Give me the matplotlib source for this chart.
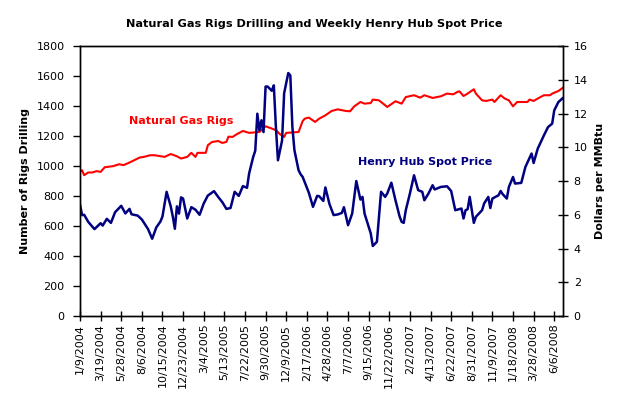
import matplotlib
matplotlib.use("Agg")
import matplotlib.pyplot as plt

# category labels on the x axis (every 10th week)
date_labels = ["1/9/2004", "3/19/2004", "5/28/2004", "8/6/2004", "10/15/2004",
               "12/23/2004", "3/4/2005", "5/13/2005", "7/22/2005", "9/30/2005",
               "12/9/2005", "2/17/2006", "4/28/2006", "7/7/2006", "9/15/2006",
               "11/22/2006", "2/2/2007", "4/13/2007", "6/22/2007", "8/31/2007",
               "11/9/2007", "1/18/2008", "3/28/2008", "6/6/2008"]

# natural gas rigs (week number from 1/9/2004, rig count)
rig_week = [0, 1, 2, 4, 6, 8, 10, 12, 16, 19, 21, 23, 25, 29, 31, 34, 36, 38, 41,
            44, 47, 49, 52, 54, 56, 57, 61, 62, 64, 67, 69, 71, 72, 74, 76, 79,
            82, 87, 90, 93, 95, 97, 99, 100, 106, 108, 109, 111, 114, 116, 119,
            122, 125, 129, 131, 133, 136, 138, 141, 142, 145, 149, 153, 156, 158,
            162, 165, 167, 171, 175, 178, 181, 183, 184, 186, 188, 191, 192, 195,
            197, 200, 201, 204, 206, 208, 210, 212, 217, 218, 220, 222, 225, 228,
            229, 232, 234]
rigs = [961, 972, 939, 957, 957, 966, 961, 992, 999, 1012, 1006, 1017, 1030, 1057,
        1061, 1072, 1072, 1068, 1061, 1080, 1065, 1050, 1061, 1088, 1061, 1088,
        1088, 1139, 1160, 1167, 1154, 1161, 1196, 1194, 1212, 1234, 1221, 1227,
        1265, 1250, 1239, 1212, 1194, 1221, 1227, 1300, 1316, 1323, 1294, 1316,
        1338, 1367, 1378, 1367, 1365, 1398, 1427, 1416, 1420, 1443, 1438, 1394,
        1432, 1416, 1460, 1472, 1456, 1472, 1454, 1465, 1483, 1478, 1494, 1498,
        1467, 1483, 1512, 1483, 1438, 1434, 1443, 1427, 1472, 1450, 1438, 1398,
        1427, 1427, 1443, 1434, 1450, 1472, 1472, 1483, 1500, 1520]

# henry hub spot price (week number, $/MMBtu)
price_week = [0, 1, 2, 4, 7, 10, 11, 13, 15, 17, 20, 22, 24, 25, 28, 30, 33, 35,
              37, 39, 40, 42, 44, 45, 46, 47, 48, 49, 50, 52, 54, 56, 58, 60, 62,
              65, 67, 69, 71, 73, 75, 77, 79, 81, 82, 84, 85, 86, 87, 88, 89, 90,
              91, 93, 94, 95, 96, 98, 99, 101, 102, 103, 104, 106, 107, 108, 111,
              113, 115, 116, 118, 119, 121, 123, 125, 127, 128, 130, 132, 134, 136,
              137, 138, 141, 142, 144, 146, 148, 149, 151, 153, 155, 156, 157, 158,
              160, 162, 164, 166, 167, 169, 171, 172, 175, 178, 180, 182, 185, 186,
              187, 188, 189, 191, 192, 195, 196, 198, 199, 200, 203, 204, 205, 207,
              208, 210, 211, 214, 216, 219, 220, 222, 225, 227, 229, 230, 232, 234]
price = [6.6, 5.98, 6.0, 5.58, 5.15, 5.5, 5.36, 5.76, 5.52, 6.15, 6.53, 6.08, 6.35,
         6.03, 5.95, 5.72, 5.15, 4.58, 5.25, 5.6, 5.9, 7.36, 6.5, 5.9, 5.17, 6.5,
         6.07, 7.03, 6.96, 5.78, 6.45, 6.3, 6.0, 6.67, 7.14, 7.4, 7.06, 6.75, 6.35,
         6.4, 7.36, 7.12, 7.7, 7.6, 8.44, 9.43, 9.8, 11.99, 11.0, 11.6, 10.9, 13.6,
         13.6, 13.35, 13.67, 11.2, 9.23, 10.4, 13.2, 14.4, 14.26, 11.2, 9.82, 8.64,
         8.4, 8.24, 7.3, 6.47, 7.12, 7.1, 6.82, 7.62, 6.63, 5.98, 6.02, 6.11, 6.45,
         5.38, 6.07, 8.0, 6.9, 7.06, 6.07, 4.9, 4.15, 4.4, 7.36, 7.06, 7.26, 7.9,
         6.86, 5.9, 5.58, 5.52, 6.27, 7.26, 8.34, 7.46, 7.36, 6.86, 7.26, 7.75, 7.5,
         7.65, 7.69, 7.41, 6.27, 6.37, 5.78, 6.27, 6.33, 7.06, 5.52, 5.88, 6.27,
         6.67, 7.06, 6.4, 6.96, 7.16, 7.41, 7.22, 6.96, 7.65, 8.24, 7.85, 7.89, 8.83,
         9.63, 9.07, 9.92, 10.71, 11.2, 11.4, 12.19, 12.68, 12.9]


def main():
    plt.rcParams["font.family"] = "DejaVu Sans"

    fig = plt.figure(figsize=(6.28, 3.97), dpi=100)
    ax1 = fig.add_axes([0.1274, 0.204, 0.7696, 0.680])
    ax2 = ax1.twinx()

    ax1.plot(rig_week, rigs, color="#ff0000", lw=1.5)
    ax2.plot(price_week, price, color="#000080", lw=1.8)

    ax1.set_xlim(0, 234.4)
    ax1.set_ylim(0, 1800)
    ax2.set_ylim(0, 16)
    ax1.set_yticks(range(0, 1801, 200))
    ax2.set_yticks(range(0, 17, 2))
    ax1.set_xticks(range(0, 231, 10))
    ax1.set_xticklabels(date_labels, rotation=90)

    ax1.tick_params(axis="x", direction="inout", length=7, width=1, labelsize=8, pad=2)
    ax1.tick_params(axis="y", direction="out", length=5, width=1, labelsize=8, pad=6)
    ax2.tick_params(axis="y", direction="inout", length=7, width=1, labelsize=8, pad=4)
    for ax in (ax1, ax2):
        for s in ax.spines.values():
            s.set_linewidth(1)

    ax1.set_ylabel("Number of Rigs Drilling", fontsize=8, fontweight="bold")
    ax2.set_ylabel("Dollars per MMBtu", fontsize=8, fontweight="bold")
    ax1.yaxis.set_label_coords(-0.1035, 0.5)
    ax2.yaxis.set_label_coords(1.066, 0.5)

    fig.text(0.5, 0.94, "Natural Gas Rigs Drilling and Weekly Henry Hub Spot Price",
             ha="center", va="center", fontsize=8.1, fontweight="bold")

    # series labels inside the plot
    ax1.text(23.8, 1299, "Natural Gas Rigs", color="#ff0000", fontsize=8,
             fontweight="bold", va="center")
    ax2.text(134.8, 9.13, "Henry Hub Spot Price", color="#000080", fontsize=8,
             fontweight="bold", va="center")

    fig.savefig("out.png", dpi=100)


if __name__ == "__main__":
    main()
